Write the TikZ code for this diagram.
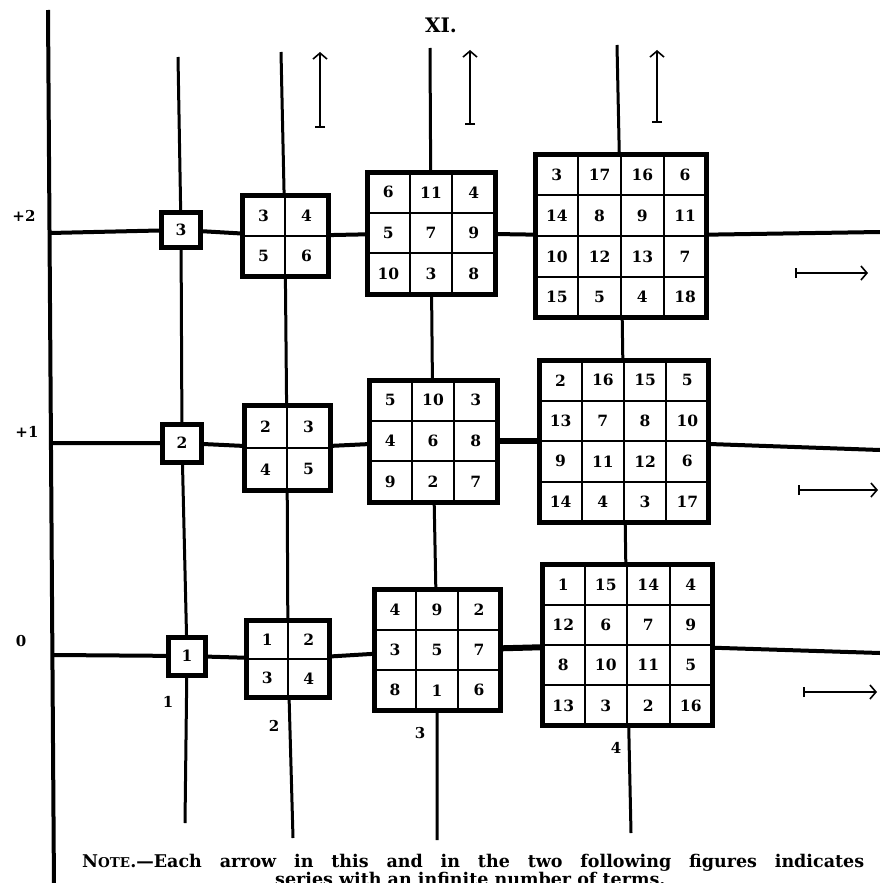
\documentclass[tikz,border=0pt]{standalone}
\usepackage{fontspec}
\setmainfont{DejaVu Serif}
\usetikzlibrary{arrows.meta}
\tikzset{
 sq/.style={draw, line width=5pt, fill=white, inner sep=0pt, outer sep=0pt},
 gridl/.style={line width=2pt},
 num/.style={font=\bfseries\fontsize{15.5}{15.5}\selectfont, inner sep=0pt},
 mainline/.style={line width=4pt},
 colline/.style={line width=3pt},
 thickline/.style={line width=6pt},
 lbl/.style={font=\bfseries\fontsize{15}{15}\selectfont, inner sep=0pt},
 infarrow/.style={line width=1.6pt, {Bar[width=10pt,line width=1.6pt]}-{Straight Barb[length=6pt,width=14pt,line width=1.6pt]}},
}
\newcommand{\msq}[7]{%
  \node[sq, minimum width=#4pt, minimum height=#5pt] (#1) at (#2,#3) {};
  \pgfmathsetmacro\cw{#4/#6}\pgfmathsetmacro\ch{#5/#6}
  \ifnum#6>1
    \pgfmathtruncatemacro\nm{#6-1}
    \foreach \k in {1,...,\nm}{
      \draw[gridl] ({#2-#4/2+\k*\cw},{#3-#5/2}) -- ({#2-#4/2+\k*\cw},{#3+#5/2});
      \draw[gridl] ({#2-#4/2},{#3-#5/2+\k*\ch}) -- ({#2+#4/2},{#3-#5/2+\k*\ch});
    }
  \fi
  \foreach \v [count=\i from 0] in {#7}{
    \pgfmathtruncatemacro\rr{int(\i/#6)}
    \pgfmathtruncatemacro\cc{mod(\i,#6)}
    \node[num] (#1-\i) at ({#2-#4/2+(\cc+0.5)*\cw},{#3-#5/2+(\rr+0.5)*\ch}) {\v};
  }
}
\begin{document}
\begin{tikzpicture}[x=1pt,y=-1pt]
\useasboundingbox (0,0) rectangle (880,883);
\clip (0,0) rectangle (880,883);
\fill[white] (0,0) rectangle (880,883);

% squares
\msq{A2}{181}{230}{39}{35}{1}{3}
\msq{A1}{182}{443}{39}{38}{1}{2}
\msq{A0}{187}{656}{37}{38}{1}{1}
\msq{B2}{285}{236}{86}{81}{2}{3,4,5,6}
\msq{B1}{287}{448}{86}{85}{2}{2,3,4,5}
\msq{B0}{288}{659}{83}{77}{2}{1,2,3,4}
\msq{C2}{431}{233}{128}{122}{3}{6,11,4,5,7,9,10,3,8}
\msq{C1}{433}{441}{128}{122}{3}{5,10,3,4,6,8,9,2,7}
\msq{C0}{437}{650}{126}{121}{3}{4,9,2,3,5,7,8,1,6}
\msq{D2}{621}{236}{171}{163}{4}{3,17,16,6,14,8,9,11,10,12,13,7,15,5,4,18}
\msq{D1}{624}{441}{169}{162}{4}{2,16,15,5,13,7,8,10,9,11,12,6,14,4,3,17}
\msq{D0}{627}{645}{170}{161}{4}{1,15,14,4,12,6,7,9,8,10,11,5,13,3,2,16}

% coordinates
\coordinate (Ltop) at (48,10);
\coordinate (Lbot) at (54,890);
\coordinate (L2) at (50,233);
\coordinate (L1) at (52,443);
\coordinate (L0) at (54,655);
\coordinate (R2) at (880,232);
\coordinate (R1) at (880,450);
\coordinate (R0) at (880,653);
\coordinate (T1) at (178,57);
\coordinate (T2) at (281,52);
\coordinate (T3) at (430,48);
\coordinate (T4) at (617,45);
\coordinate (B1b) at (185,823);
\coordinate (B2b) at (293,838);
\coordinate (B3b) at (437,840);
\coordinate (B4b) at (631,833);

% main lines
\draw[mainline] (Ltop) -- (Lbot);
\draw[mainline] (L2) -- (A2) -- (B2) -- (C2) -- (D2) -- (R2);
\draw[mainline] (L1) -- (A1) -- (B1) -- (C1);
\draw[thickline] (C1) -- (D1);
\draw[mainline] (D1) -- (R1);
\draw[mainline] (L0) -- (A0) -- (B0) -- (C0);
\draw[thickline] (C0) -- (D0);
\draw[mainline] (D0) -- (R0);
\draw[colline] (T1) -- (A2) -- (A1) -- (A0) -- (B1b);
\draw[colline] (T2) -- (B2) -- (B1) -- (B0) -- (B2b);
\draw[colline] (T3) -- (C2) -- (C1) -- (C0) -- (B3b);
\draw[colline] (T4) -- (D2) -- (D1) -- (D0) -- (B4b);

% arrows
\coordinate (u1s) at (320,128); \coordinate (u1e) at (320,52);
\coordinate (u2s) at (470,125); \coordinate (u2e) at (470,50);
\coordinate (u3s) at (657,123); \coordinate (u3e) at (657,50);
\coordinate (h2s) at (795,273); \coordinate (h2e) at (868,273);
\coordinate (h1s) at (798,490); \coordinate (h1e) at (878,490);
\coordinate (h0s) at (803,692); \coordinate (h0e) at (877,692);
\draw[infarrow] (u1s) -- (u1e);
\draw[infarrow] (u2s) -- (u2e);
\draw[infarrow] (u3s) -- (u3e);
\draw[infarrow] (h2s) -- (h2e);
\draw[infarrow] (h1s) -- (h1e);
\draw[infarrow] (h0s) -- (h0e);

% labels
\node[font=\bfseries\fontsize{20}{20}\selectfont, inner sep=0pt] (title) at (441,25) {XI.};
\node[lbl] (lp2) at (24,216) {+2};
\node[lbl] (lp1) at (27,432) {+1};
\node[lbl] (lp0) at (21,641) {0};
\node[lbl] (n1) at (168,702) {1};
\node[lbl] (n2) at (274,726) {2};
\node[lbl] (n3) at (420,733) {3};
\node[lbl] (n4) at (616,748) {4};

\node[anchor=base west, inner sep=0pt, font=\bfseries\fontsize{17.5}{17.5}\selectfont] (note1) at (82,867)
  {\makebox[782pt][s]{N{\fontsize{13.5}{13.5}\selectfont OTE}.—Each arrow in this and in the two following figures indicates}};
\node[anchor=base west, inner sep=0pt, font=\bfseries\fontsize{17.5}{17.5}\selectfont] (note2) at (275,885)
  {series with an infinite number of terms.};
\end{tikzpicture}
\end{document}
